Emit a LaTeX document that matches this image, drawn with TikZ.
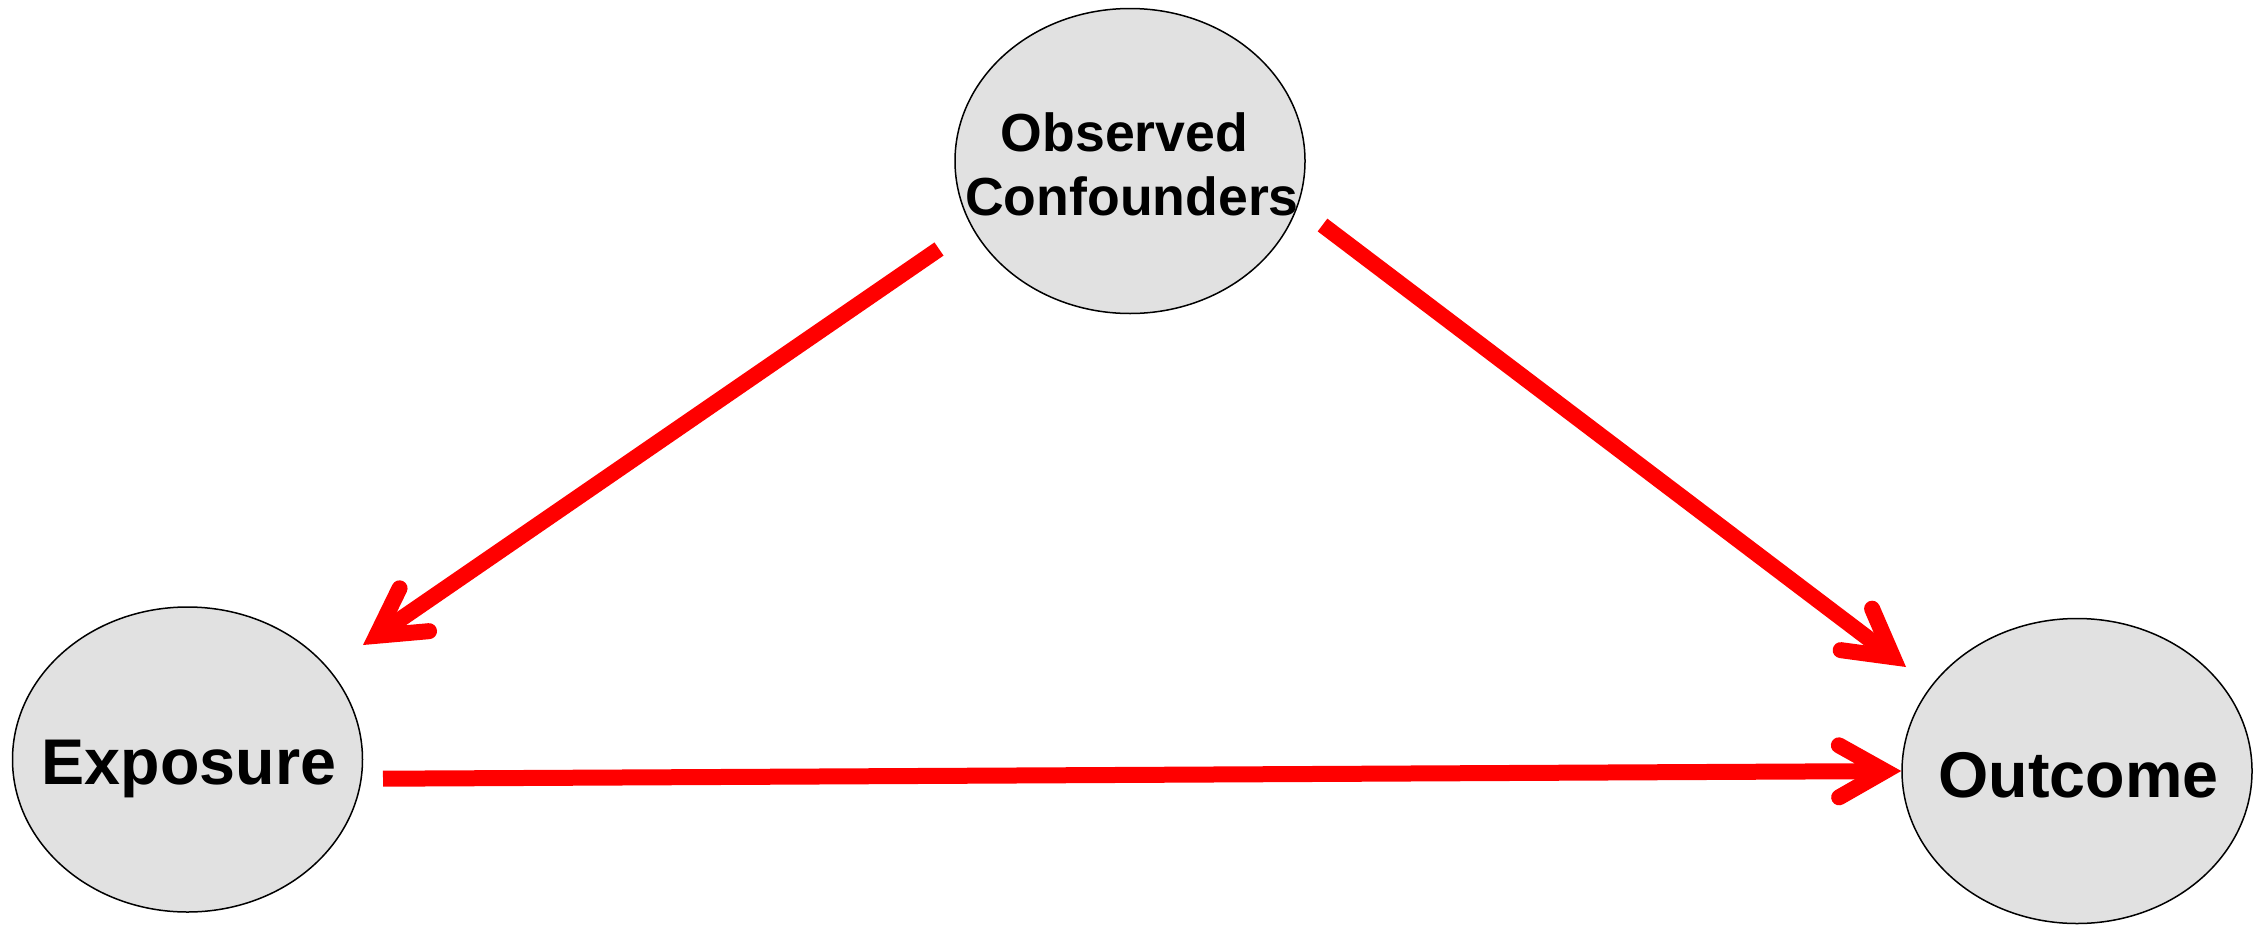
\documentclass[tikz,border=0pt]{standalone}
\usepackage{fontspec}
\setmainfont{Liberation Sans}
\usetikzlibrary{arrows.meta,shapes.geometric}
\definecolor{nodegray}{RGB}{225,225,225}
\definecolor{arrowred}{RGB}{255,0,0}

\begin{document}
\begin{tikzpicture}[x=0.5pt,y=-0.5pt,
  var/.style={ellipse, draw=black, line width=0.75pt, fill=nodegray,
    minimum width=175pt, minimum height=152.5pt, inner sep=0pt},
  biglbl/.style={inner sep=0pt, font=\bfseries\fontsize{32.3}{36}\selectfont},
  smalllbl/.style={inner sep=0pt, align=center, font=\bfseries\fontsize{26.8}{32}\selectfont},
  causal/.style={draw=arrowred, line width=8pt, line cap=butt,
    -{Straight Barb[length=23pt,width=26pt,line cap=round,line join=miter]}}
]
\useasboundingbox (0,0) rectangle (2262,926);

% variables
\node[var] (obs) at (1130,161) {};
\node[var] (exp) at (187.5,759.5) {};
\node[var] (out) at (2077,771) {};

% variable names
\node[smalllbl, anchor=base] (obsT) at ([shift={(2,54)}]obs.center) {Observed\hspace*{0.28em}\\Confounders};
\node[biglbl, anchor=base] (expT) at ([shift={(1.5,24.5)}]exp.center) {Exposure};
\node[biglbl, anchor=base] (outT) at ([shift={(1.5,26)}]out.center) {Outcome};

% causal paths
\draw[causal] ([shift={(-191,88)}]obs.center) -- ([shift={(175.5,-114.5)}]exp.center);
\draw[causal] ([shift={(192.5,64)}]obs.center) -- ([shift={(-171,-104)}]out.center);
\draw[causal] ([shift={(195.5,19.2)}]exp.center) -- (out.west);
\end{tikzpicture}
\end{document}
